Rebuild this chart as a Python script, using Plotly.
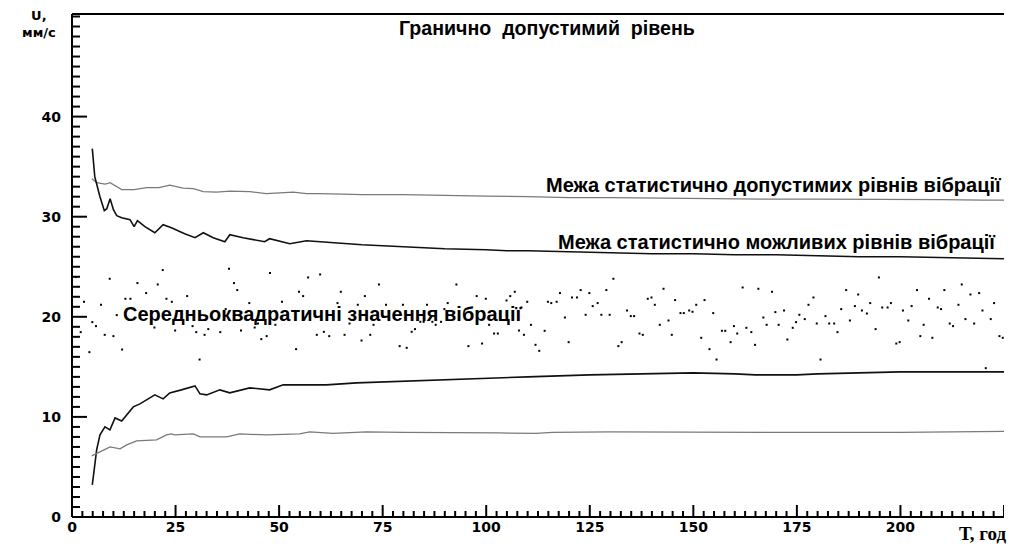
import plotly.graph_objects as go

# ---------------- data ----------------
# mean-square vibration values (dots)
rms_x = [0.9, 2.1, 2.9, 4.2, 4.9, 5.8, 7.0, 7.9, 9.1, 10.0, 10.8, 12.1, 12.9, 14.1, 15.8, 17.9,
         19.9, 20.7, 21.9, 22.8, 24.1, 24.9, 27.8, 29.1, 30.0, 30.8, 32.0, 32.9, 35.8, 37.1, 37.9,
         39.1, 39.9, 40.8, 42.8, 44.1, 44.9, 45.7, 47.0, 47.8, 49.1, 50.7, 54.1, 54.8,
         55.8, 57.0, 59.1, 59.9, 60.8, 62.1, 64.1, 64.9, 65.8, 67.0, 69.0, 69.9, 70.7, 72.0, 72.8,
         74.1, 75.8, 79.1, 79.9, 80.8, 82.0, 82.8, 84.1, 84.9, 85.7, 87.0, 87.8, 89.1, 89.9, 90.7,
         92.8, 95.7, 97.7, 99.0, 99.9, 100.7, 101.9, 102.8, 104.9, 105.8, 106.9, 107.9, 108.5,
         109.1, 109.9, 110.8,
         111.9, 112.8, 114.1, 114.9, 115.7, 117.0, 117.8, 119.0, 119.9, 120.7, 121.9, 122.8, 124.0,
         124.9, 125.7, 126.9, 127.8, 129.0, 129.8, 130.7, 131.9, 132.7, 134.0, 134.9, 135.7, 137.0,
         137.8, 139.0, 139.9, 140.7, 141.9, 142.8, 144.0, 144.8, 145.6, 146.9, 147.7, 149.0, 149.8,
         150.7, 151.9, 152.7, 153.9, 154.8, 155.6, 156.9, 157.7, 159.0, 159.8, 160.6, 161.9, 162.8,
         164.0, 164.9, 165.7, 166.9, 167.7,
         169.0, 169.8, 170.6, 171.9, 172.7, 174.0, 174.8, 175.6, 176.9, 177.8, 179.0, 179.8, 180.7,
         181.9, 182.8, 184.0, 184.8, 185.7, 186.9, 187.8, 189.0, 189.8, 190.7, 191.9, 192.7, 194.0,
         194.8, 195.6, 196.9, 197.7, 199.0, 199.8, 200.6, 201.9, 202.7, 204.0, 204.8, 205.6, 206.9,
         207.7, 209.0, 209.8, 210.6, 211.9, 212.7, 214.0, 214.8, 215.7, 216.9, 217.8, 219.0, 219.8,
         220.6, 221.8, 222.6, 223.9, 224.7]
rms_y = [23.97, 18.47, 21.5, 16.47, 19.47, 19.07, 21.2, 18.2, 23.8, 18.07, 20.17, 16.73, 21.8, 21.8,
         23.37, 22.37, 18.93, 23.23, 24.67, 21.8, 21.5, 18.63, 22.07, 19.07, 18.47, 15.73, 18.2,
         18.77, 18.47, 20.77, 24.8, 23.37, 22.67, 18.63, 21.37, 18.93, 19.33, 17.77, 18.07, 24.37,
         19.2, 21.5, 16.77, 22.5,
         22.07, 23.93, 18.2, 24.23, 18.5, 18.07, 21.37, 22.5, 18.2, 19.33, 21.2, 17.63, 22.07, 18.2,
         19.2, 23.23, 21.2, 17.07, 21.2, 16.9, 18.5, 18.77, 19.5, 19.5, 21.2, 19.5, 19.2, 19.5,
         20.77, 21.37, 23.23, 17.07, 22.07, 17.33, 21.8, 19.2, 18.33, 18.33, 21.63, 22.07, 22.5,
         18.63, 20.93, 18.2, 21.5, 19.2,
         17.2, 16.6, 18.6, 21.5, 21.37, 21.5, 22.37, 19.93, 17.47, 21.93, 21.93, 22.67, 20.2, 22.37,
         21.07, 21.37, 20.2, 22.67, 20.2, 23.8, 17.07, 17.47, 20.63, 20.07, 20.07, 18.33, 18.2,
         21.8, 21.93, 21.2, 19.2, 22.8, 19.63, 18.2, 21.67, 20.37, 20.37, 20.63, 20.5, 21.2, 17.9,
         21.67, 16.77, 20.37, 15.73, 18.6, 18.6, 17.47, 19.07, 18.33, 22.93, 18.9, 18.47, 17.2,
         22.8, 19.93, 19.2,
         22.5, 20.47, 19.2, 20.63, 17.73, 18.9, 19.47, 20.2, 19.77, 21.2, 21.93, 19.33, 15.73,
         20.07, 19.33, 19.33, 18.47, 20.77, 22.67, 19.63, 21.07, 22.23, 20.63, 20.33, 21.37, 18.77,
         23.93, 20.93, 20.93, 21.37, 17.33, 17.47, 20.63, 19.63, 21.07, 22.67, 18.07, 19.2, 21.8,
         17.9, 20.93, 20.77, 22.67, 19.33, 19.07, 21.2, 23.23, 19.77, 22.23, 19.33, 22.37, 20.63,
         14.87, 19.77, 21.37, 18.07, 17.9]

# upper limit of statistically admissible levels (gray)
upg_x = [4.8, 6.0, 8.0, 9.2, 12.0, 15.0, 18.0, 21.0, 23.6, 26.8, 29.3, 31.7, 34.9, 38.1, 42.9,
         46.9, 53.4, 56.6, 60, 70, 80, 90, 100, 110, 120, 130, 140, 150, 160, 170, 180, 190,
         200, 210, 220, 225]
upg_y = [33.8, 33.4, 33.25, 33.4, 32.7, 32.7, 32.9, 32.9, 33.15, 32.85, 32.8, 32.5, 32.45, 32.55,
         32.5, 32.3, 32.45, 32.3, 32.3, 32.2, 32.2, 32.1, 32.05, 32.0, 31.9, 31.9, 31.85, 31.8,
         31.8, 31.75, 31.75, 31.75, 31.7, 31.7, 31.65, 31.65]

# upper limit of statistically possible levels (black)
upb_x = [4.9, 5.5, 6.75, 7.8, 8.4, 9.2, 10.0, 10.8, 12.0, 14.0, 15.0, 15.8, 17.6, 20.0, 22.0,
         24.0, 27.2, 29.7, 31.7, 34.1, 36.9, 38.1, 41.3, 46.5, 47.7, 52.6, 56.6, 60, 65, 70, 75,
         80, 90, 100, 105, 110, 120, 130, 140, 150, 160, 170, 180, 190, 200, 210, 215, 220, 225]
upb_y = [36.8, 34.0, 32.0, 30.6, 30.8, 31.8, 30.7, 30.1, 29.9, 29.7, 29.0, 29.6, 29.0, 28.4, 29.2,
         28.9, 28.3, 27.9, 28.4, 27.9, 27.5, 28.2, 27.9, 27.5, 27.8, 27.3, 27.6, 27.5, 27.3, 27.2,
         27.1, 27.0, 26.8, 26.7, 26.6, 26.6, 26.5, 26.4, 26.3, 26.3, 26.2, 26.2, 26.1, 26.0, 26.0,
         25.9, 25.9, 25.8, 25.8]

# lower limit of statistically possible levels (black)
lob_x = [4.9, 5.4, 5.95, 6.75, 7.96, 9.16, 10.4, 12.0, 14.8, 16.4, 20.0, 22.0, 23.6, 26.4, 29.7,
         30.9, 32.5, 35.7, 38.1, 42.9, 47.7, 51.0, 61.4, 68.7, 75.1, 87, 100, 110, 125, 140, 150,
         160, 165, 175, 180, 190, 200, 210, 225]
lob_y = [3.2, 5.2, 6.7, 8.2, 9.0, 8.7, 9.9, 9.6, 11.0, 11.3, 12.2, 11.8, 12.4, 12.7, 13.1, 12.3,
         12.2, 12.7, 12.4, 12.9, 12.7, 13.2, 13.2, 13.4, 13.5, 13.7, 13.9, 14.0, 14.2, 14.3, 14.4,
         14.3, 14.2, 14.2, 14.3, 14.4, 14.5, 14.5, 14.5]

# lower limit of statistically admissible levels (gray)
log_x = [4.75, 6.75, 9.2, 11.6, 13.2, 15.6, 20.4, 22.8, 24.0, 24.8, 29.3, 30.9, 37.3, 40.5, 46.9,
         54.9, 57.4, 63.0, 71.1, 80, 90, 103, 112, 116, 130, 150, 175, 200, 215, 225]
log_y = [6.1, 6.5, 7.0, 6.8, 7.2, 7.6, 7.7, 8.2, 8.3, 8.2, 8.3, 8.0, 8.0, 8.3, 8.2, 8.3, 8.5, 8.35,
         8.5, 8.45, 8.45, 8.4, 8.35, 8.45, 8.5, 8.45, 8.45, 8.45, 8.5, 8.55]

x_ticks = [0, 25, 50, 75, 100, 125, 150, 175, 200, 225]
x_tick_labels = ["0", "25", "50", "75", "100", "125", "150", "175", "200", ""]
y_ticks = [0, 10, 20, 30, 40]
y_tick_labels = ["0", "10", "20", "30", "40"]
x_minor_step = 2.5
y_minor_step = 1

X_RANGE = [0, 225]
Y_RANGE = [0, 50.25]


def bold(s):
    return "<b>" + s + "</b>" if s else s


# ---------------- figure ----------------
fig = go.Figure()
fig.add_trace(go.Scatter(x=rms_x, y=rms_y, mode="markers",
                         marker=dict(symbol="square", size=2, color="black")))
fig.add_trace(go.Scatter(x=upg_x, y=upg_y, mode="lines", line=dict(color="#7a7a7a", width=1.3)))
fig.add_trace(go.Scatter(x=upb_x, y=upb_y, mode="lines", line=dict(color="#111111", width=1.6)))
fig.add_trace(go.Scatter(x=lob_x, y=lob_y, mode="lines", line=dict(color="#111111", width=1.6)))
fig.add_trace(go.Scatter(x=log_x, y=log_y, mode="lines", line=dict(color="#7a7a7a", width=1.3)))

tick_font = dict(family="DejaVu Sans", size=14, color="black")
lab_font = dict(family="Liberation Sans", size=20, color="black")

# frame and tick marks (positions follow the axis scales via xref/yref)
black2 = dict(color="black", width=2)
shapes = [
    dict(type="line", xref="paper", yref="paper", x0=0, x1=0, y0=0, y1=1, line=black2),
    dict(type="line", xref="paper", yref="paper", x0=0, x1=1, y0=0, y1=0, line=black2),
    dict(type="line", xref="paper", yref="paper", x0=0, x1=1, y0=1, y1=1, line=black2),
]
n_xminor = int(round(X_RANGE[1] / x_minor_step))
for i in range(n_xminor + 1):
    v = i * x_minor_step
    length = 12 if v in x_ticks else 6
    shapes.append(dict(type="line", xref="x", yref="paper", ysizemode="pixel", yanchor=0,
                       x0=v, x1=v, y0=0, y1=length, line=black2))
n_yminor = int(Y_RANGE[1] // y_minor_step)
for i in range(n_yminor + 1):
    v = i * y_minor_step
    length = 15 if v in y_ticks else 8
    shapes.append(dict(type="line", xref="paper", yref="y", xsizemode="pixel", xanchor=0,
                       x0=0, x1=length, y0=v, y1=v, line=black2))

fig.update_layout(
    template="none",
    width=1014, height=544,
    margin=dict(l=72, r=10, t=14, b=27, autoexpand=False),
    showlegend=False,
    xaxis=dict(range=X_RANGE, tickvals=x_ticks, ticktext=[bold(t) for t in x_tick_labels],
               ticks="", showline=False, showgrid=False, zeroline=False, tickfont=tick_font),
    yaxis=dict(range=Y_RANGE, tickvals=y_ticks, ticktext=[bold(t) for t in y_tick_labels],
               ticks="", showline=False, showgrid=False, zeroline=False, tickfont=tick_font,
               ticklabelstandoff=10),
    shapes=shapes,
)

fig.add_annotation(x=114.7, y=48.9, xref="x", yref="y",
                   text=bold("Гранично \u00a0допустимий \u00a0рівень"),
                   showarrow=False, font=dict(lab_font, size=19.6), xanchor="center", yanchor="middle")
fig.add_annotation(x=224.8, y=33.2, xref="x", yref="y",
                   text=bold("Межа статистично допустимих рівнів вібрації"),
                   showarrow=False, font=lab_font, xanchor="right", yanchor="middle")
fig.add_annotation(x=223.2, y=27.5, xref="x", yref="y",
                   text=bold("Межа статистично можливих рівнів вібрації"),
                   showarrow=False, font=lab_font, xanchor="right", yanchor="middle")
fig.add_annotation(x=11.9, y=20.3, xref="x", yref="y",
                   text=bold("Середньоквадратичні значення вібрації"),
                   showarrow=False, font=lab_font, xanchor="left", yanchor="middle")
# axis titles
fig.add_annotation(x=1.004, y=-0.033, xref="paper", yref="paper", text=bold("Т, год"),
                   showarrow=False, xanchor="right", yanchor="middle",
                   font=dict(family="Liberation Serif", size=19, color="black"))
fig.add_annotation(x=-0.015, y=1.015, xref="paper", yref="paper", text="<b>U,<br>мм/с</b>",
                   showarrow=False, xanchor="right", yanchor="top", align="center",
                   font=dict(family="DejaVu Sans", size=13, color="black"))

fig.write_html("out.html")
